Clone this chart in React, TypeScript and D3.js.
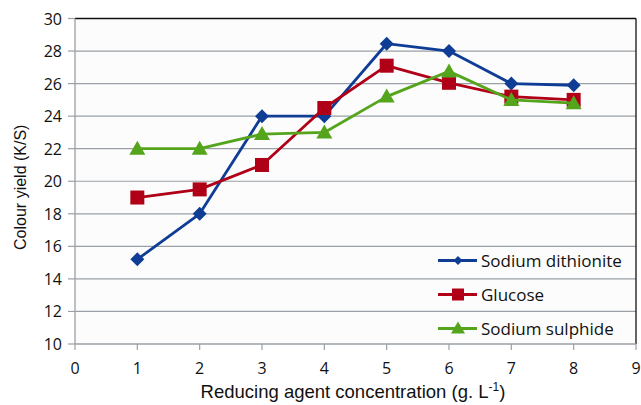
import React from "react";
import * as d3 from "d3";

const xValues = [1, 2, 3, 4, 5, 6, 7, 8];
const dithionite = [15.2, 18.0, 24.0, 24.0, 28.45, 28.0, 26.0, 25.9];
const glucose = [19.0, 19.5, 21.0, 24.5, 27.1, 26.05, 25.2, 25.0];
const sulphide = [22.0, 22.0, 22.9, 23.0, 25.2, 26.75, 25.0, 24.8];
const seriesNames = ["Sodium dithionite", "Glucose", "Sodium sulphide"];
const xTicks = [0, 1, 2, 3, 4, 5, 6, 7, 8, 9];
const yTicks = [10, 12, 14, 16, 18, 20, 22, 24, 26, 28, 30];

const W = 641, H = 405;
const L = 75, R = 636, T = 18.5, B = 344;
const font = "'Open Sans', 'Liberation Sans', sans-serif";
const arial = "'Liberation Sans', Arial, sans-serif";

const colors = ["#0F3D96", "#B00018", "#55A51C"];

function Marker({ kind, x, y, color }: { kind: number; x: number; y: number; color: string }) {
  if (kind === 0) {
    const s = 7;
    return <path d={`M${x},${y - s}L${x + s},${y}L${x},${y + s}L${x - s},${y}Z`} fill={color} />;
  }
  if (kind === 1) {
    const s = 7;
    return <rect x={x - s} y={y - s} width={2 * s} height={2 * s} fill={color} />;
  }
  const s = 8;
  return <path d={`M${x},${y - s}L${x + s},${y + 6}L${x - s},${y + 6}Z`} fill={color} />;
}

export default function App() {
  const x = d3.scaleLinear().domain([0, 9]).range([L, R]);
  const y = d3.scaleLinear().domain([10, 30]).range([B, T]);
  const data = [dithionite, glucose, sulphide];
  const line = d3
    .line<number>()
    .x((_, i) => x(xValues[i]))
    .y((d) => y(d));

  return (
    <svg width={W} height={H} style={{ position: "absolute", left: 0, top: 0 }}>
      <rect x={0} y={0} width={W} height={H} fill="#fff" />
      <rect x={L} y={T} width={R - L} height={B - T} fill="#fcfcfc" />
      {yTicks.map((t) => (
        <g key={t}>
          {t > 10 && t < 30 && (
            <line x1={L} x2={R} y1={y(t)} y2={y(t)} stroke="#9aa0a6" strokeWidth={1.2} />
          )}
          <line x1={L - 7} x2={L} y1={y(t)} y2={y(t)} stroke="#9aa0a6" strokeWidth={1.2} />
          <text x={L - 13} y={y(t)} textAnchor="end" dominantBaseline="central" fontFamily={font} fontSize={16} fill="#111">
            {t}
          </text>
        </g>
      ))}
      <line x1={L} x2={R} y1={T} y2={T} stroke="#111" strokeWidth={1.3} />
      <line x1={R} x2={R} y1={T} y2={B} stroke="#111" strokeWidth={1.3} />
      <line x1={L} x2={L} y1={T} y2={B} stroke="#9aa0a6" strokeWidth={1.3} />
      <line x1={L} x2={R} y1={B} y2={B} stroke="#9aa0a6" strokeWidth={1.3} />
      {xTicks.map((t) => (
        <g key={t}>
          <line x1={x(t)} x2={x(t)} y1={B} y2={B + 6} stroke="#9aa0a6" strokeWidth={1.2} />
          <text x={x(t)} y={B + 30} textAnchor="middle" fontFamily={font} fontSize={16} fill="#111">
            {t}
          </text>
        </g>
      ))}
      {data.map((s, k) => (
        <g key={k}>
          <path d={line(s) || ""} fill="none" stroke={colors[k]} strokeWidth={2.8} strokeLinejoin="round" />
          {s.map((v, i) => (
            <Marker key={i} kind={k} x={x(xValues[i])} y={y(v)} color={colors[k]} />
          ))}
        </g>
      ))}
      {seriesNames.map((n, k) => {
        const ly = 260.5 + k * 34;
        return (
          <g key={n}>
            <line x1={438} x2={477} y1={ly} y2={ly} stroke={colors[k]} strokeWidth={2.8} />
            {k === 0 && <path d={`M458,${ly - 4.5}L462.5,${ly}L458,${ly + 4.5}L453.5,${ly}Z`} fill={colors[0]} />}
            {k === 1 && <rect x={452} y={ly - 6} width={12} height={12} fill={colors[1]} />}
            {k === 2 && <path d={`M458,${ly - 7}L465,${ly + 5}L451,${ly + 5}Z`} fill={colors[2]} />}
            <text x={481} y={ly} dominantBaseline="central" fontFamily={font} fontSize={17} fill="#111">
              {n}
            </text>
          </g>
        );
      })}
      <text
        transform={`translate(20,${(T + B) / 2 + 6}) rotate(-90)`}
        textAnchor="middle"
        dominantBaseline="central"
        fontFamily={arial}
        fontSize={16}
        fill="#111"
      >
        Colour yield (K/S)
      </text>
      <text x={353} y={398} textAnchor="middle" fontFamily={arial} fontSize={18.5} fill="#111">
        Reducing agent concentration (g. L
        <tspan dy={-7} fontSize={12}>-1</tspan>
        <tspan dy={7}>)</tspan>
      </text>
    </svg>
  );
}
